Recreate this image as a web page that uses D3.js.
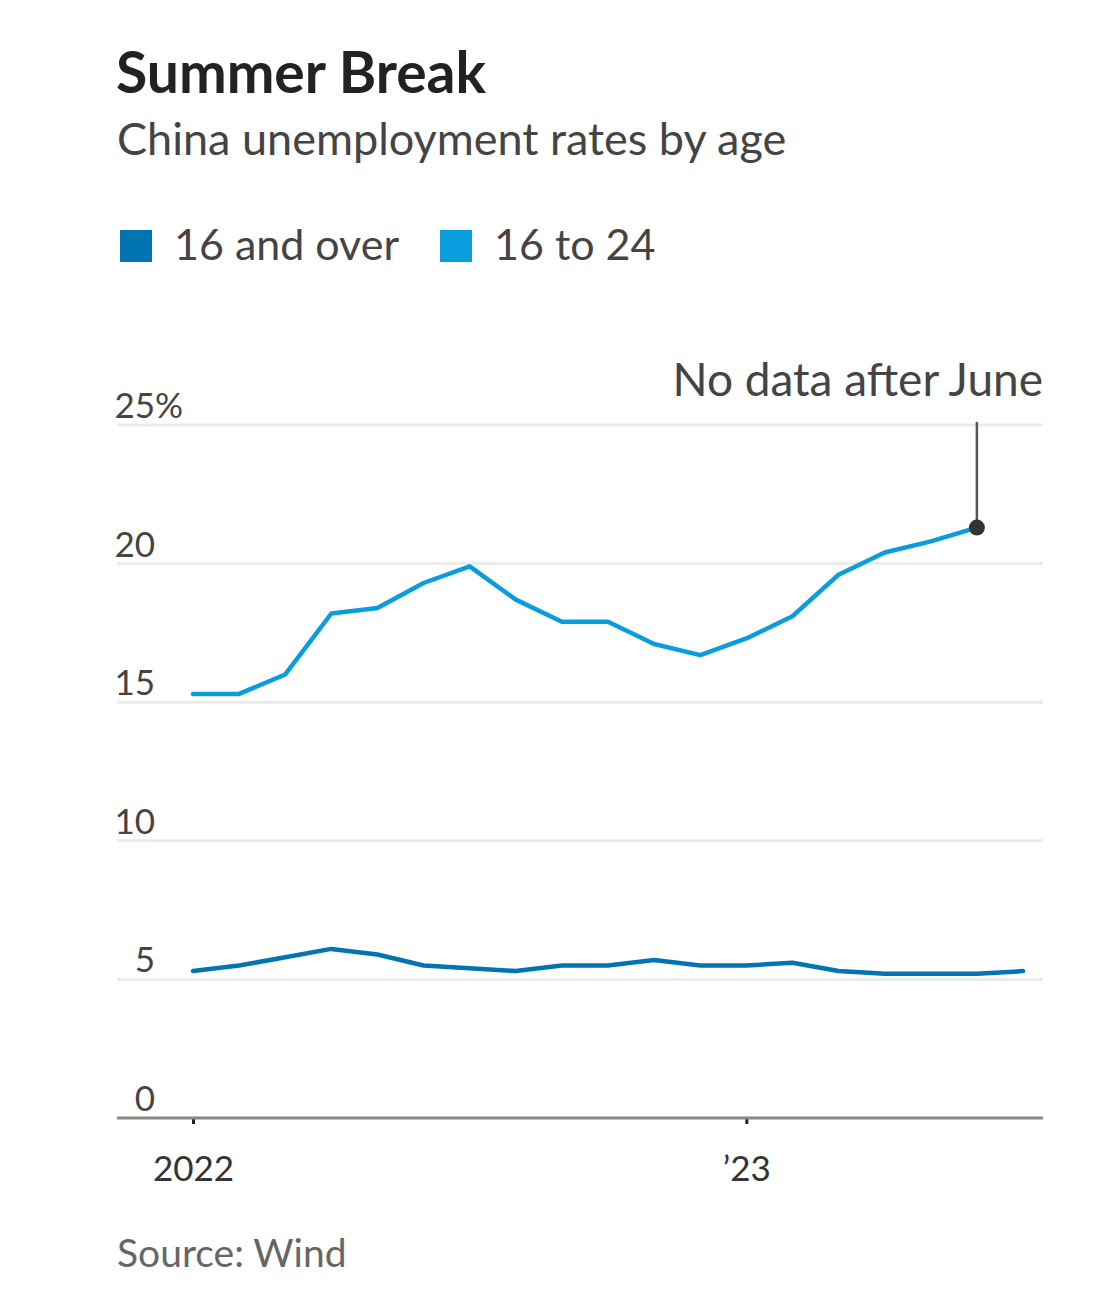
<!DOCTYPE html>
<html>
<head>
<meta charset="utf-8">
<script src="https://cdn.jsdelivr.net/npm/d3@7"></script>
<style>
  body { margin: 0; background: #fff; }
  svg { display: block; }
  text { font-family: Lato, "Noto Sans", sans-serif; }
</style>
</head>
<body>
<svg id="chart" width="1100" height="1314"></svg>
<script>
// ---- Data ----
const months = ["Jan 2022","Feb 2022","Mar 2022","Apr 2022","May 2022","Jun 2022","Jul 2022","Aug 2022","Sep 2022","Oct 2022","Nov 2022","Dec 2022","Jan 2023","Feb 2023","Mar 2023","Apr 2023","May 2023","Jun 2023","Jul 2023"];
const overall = [5.3, 5.5, 5.8, 6.1, 5.9, 5.5, 5.4, 5.3, 5.5, 5.5, 5.7, 5.5, 5.5, 5.6, 5.3, 5.2, 5.2, 5.2, 5.3];
const youth = [15.3, 15.3, 16.0, 18.2, 18.4, 19.3, 19.9, 18.7, 17.9, 17.9, 17.1, 16.7, 17.3, 18.1, 19.6, 20.4, 20.8, 21.3];
const yTicks = [0, 5, 10, 15, 20, 25];
const xTickIdx = [0, 12];
const xTickLabels = ["2022", "\u201923"];
const seriesNames = ["16 and over", "16 to 24"];
const colors = ["#0274b1", "#0a9ddd"];

const svg = d3.select("#chart");
const x = d3.scaleLinear().domain([0, 18]).range([193, 1023]);
const y = d3.scaleLinear().domain([0, 25]).range([1118, 425]);
const gridLeft = 117, gridRight = 1043;

// Title
svg.append("text").attr("x", 116).attr("y", 93)
  .attr("font-size", 57).attr("font-weight", 700).attr("fill", "#222")
  .text("Summer Break");
svg.append("text").attr("x", 117).attr("y", 155)
  .attr("font-size", 45).attr("fill", "#444")
  .text("China unemployment rates by age");

// Legend
const legX = [120, 440];
seriesNames.forEach((n, i) => {
  svg.append("rect").attr("x", legX[i]).attr("y", 230).attr("width", 32).attr("height", 32).attr("fill", colors[i]);
  svg.append("text").attr("x", legX[i] + 54).attr("y", 260)
    .attr("font-size", 43).attr("fill", "#444").text(n);
});

// Gridlines
svg.append("g").selectAll("line").data(yTicks.filter(d => d > 0)).join("line")
  .attr("x1", gridLeft).attr("x2", gridRight)
  .attr("y1", d => y(d)).attr("y2", d => y(d))
  .attr("stroke", "#ebebeb").attr("stroke-width", 3);

// Y labels
svg.append("g").selectAll("text").data(yTicks).join("text")
  .attr("x", 155).attr("y", d => y(d) - 7)
  .attr("text-anchor", "end").attr("font-size", 35).attr("fill", "#444")
  .text(d => d);
svg.append("text").attr("x", 155).attr("y", y(25) - 7)
  .attr("font-size", 35).attr("fill", "#444").text("%");

// X axis
const xAxis = d3.axisBottom(x).tickValues(xTickIdx).tickSize(6).tickFormat((d, i) => xTickLabels[i]);
const gx = svg.append("g").attr("transform", `translate(0,${y(0)})`).call(xAxis);
gx.select(".domain").remove();
gx.selectAll(".tick line").attr("stroke", "#222").attr("stroke-width", 3);
gx.selectAll(".tick text").attr("font-size", 35).attr("fill", "#333").attr("dy", 0).attr("y", 63)
  .style("font-family", "Lato, 'Noto Sans', sans-serif");
svg.append("line").attr("x1", gridLeft).attr("x2", gridRight)
  .attr("y1", y(0)).attr("y2", y(0)).attr("stroke", "#888").attr("stroke-width", 3);

// Lines
const line = d3.line().x((d, i) => x(i)).y(d => y(d)).curve(d3.curveLinear);
[overall, youth].forEach((s, i) => {
  svg.append("path").datum(s).attr("d", line)
    .attr("fill", "none").attr("stroke", colors[i]).attr("stroke-width", 4.5)
    .attr("stroke-linejoin", "round").attr("stroke-linecap", "round");
});

// Annotation
const lastI = youth.length - 1;
svg.append("line").attr("x1", x(lastI)).attr("x2", x(lastI))
  .attr("y1", y(25) - 3).attr("y2", y(youth[lastI]))
  .attr("stroke", "#555").attr("stroke-width", 2.5);
svg.append("circle").attr("cx", x(lastI)).attr("cy", y(youth[lastI])).attr("r", 8).attr("fill", "#333");
svg.append("text").attr("x", gridRight).attr("y", 396).attr("text-anchor", "end")
  .attr("font-size", 46).attr("fill", "#444").text("No data after June");

// Source
svg.append("text").attr("x", 117).attr("y", 1267)
  .attr("font-size", 39).attr("fill", "#666").text("Source: Wind");
</script>
</body>
</html>
